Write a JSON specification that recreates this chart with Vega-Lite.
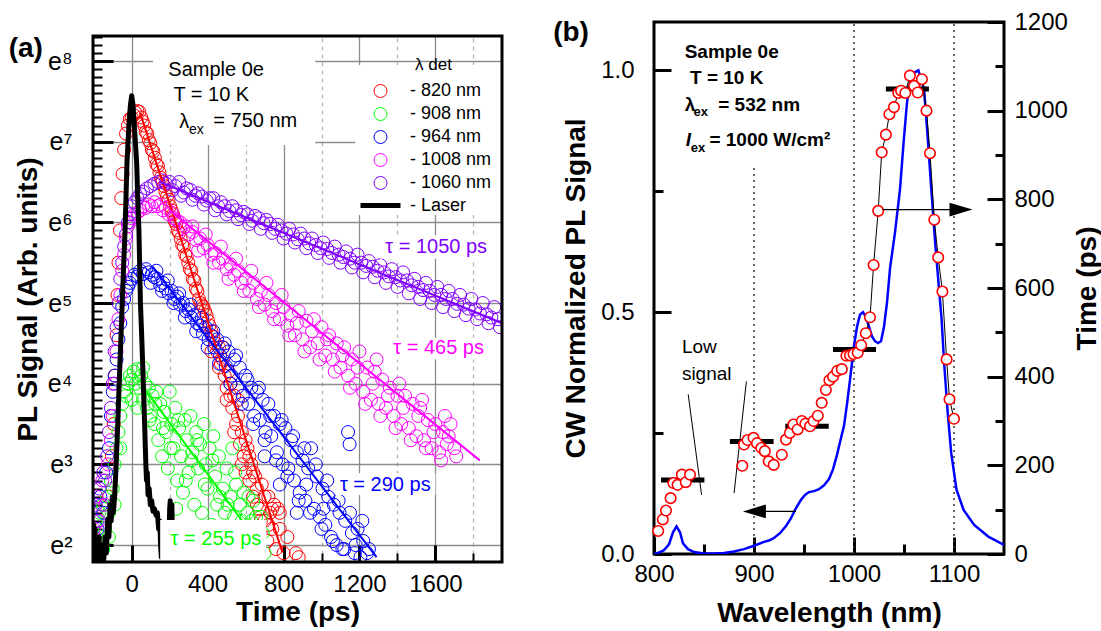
{
  "$schema": "https://vega.github.io/schema/vega-lite/v6.json",
  "padding": {"left": 8, "top": 8, "right": 5, "bottom": 5},
  "background": "white",
  "spacing": 47,
  "config": {
    "font": "Liberation Sans",
    "view": {"stroke": "black", "strokeWidth": 3},
    "axis": {"labelColor": "black", "titleColor": "black", "tickColor": "black", "domain": false, "labelFontSize": 24, "titleFontSize": 28, "titleFontWeight": "bold", "labelFlush": false, "labelOverlap": false, "labelBound": false}
  },
  "datasets": {
    "decay": [
      {"series":"820 nm","t":-120,"lnI":2.6},{"series":"820 nm","t":-105,"lnI":3.1},{"series":"820 nm","t":-95,"lnI":3.5},{"series":"820 nm","t":-88,"lnI":4.1},{"series":"820 nm","t":-80,"lnI":4.6},{"series":"820 nm","t":-75,"lnI":5.1},{"series":"820 nm","t":-70,"lnI":5.5},{"series":"820 nm","t":-62,"lnI":5.9},{"series":"820 nm","t":-55,"lnI":6.3},{"series":"820 nm","t":-48,"lnI":6.6},{"series":"820 nm","t":-40,"lnI":6.9},{"series":"820 nm","t":-30,"lnI":7.1},{"series":"820 nm","t":-20,"lnI":7.2},{"series":"820 nm","t":-10,"lnI":7.28},{"series":"820 nm","t":0,"lnI":7.3},{"series":"820 nm","t":10,"lnI":7.33},{"series":"820 nm","t":20,"lnI":7.36},{"series":"820 nm","t":30,"lnI":7.38},{"series":"820 nm","t":40,"lnI":7.37},{"series":"820 nm","t":50,"lnI":7.3},{"series":"820 nm","t":58,"lnI":7.25},{"series":"820 nm","t":66,"lnI":7.2},{"series":"820 nm","t":74,"lnI":7.12},{"series":"820 nm","t":82,"lnI":7.1},{"series":"820 nm","t":90,"lnI":7.02},{"series":"820 nm","t":98,"lnI":6.98},{"series":"820 nm","t":106,"lnI":6.9},{"series":"820 nm","t":114,"lnI":6.88},{"series":"820 nm","t":122,"lnI":6.8},{"series":"820 nm","t":130,"lnI":6.72},{"series":"820 nm","t":138,"lnI":6.7},{"series":"820 nm","t":146,"lnI":6.62},{"series":"820 nm","t":154,"lnI":6.55},{"series":"820 nm","t":162,"lnI":6.5},{"series":"820 nm","t":170,"lnI":6.45},{"series":"820 nm","t":178,"lnI":6.38},{"series":"820 nm","t":186,"lnI":6.32},{"series":"820 nm","t":194,"lnI":6.28},{"series":"820 nm","t":202,"lnI":6.2},{"series":"820 nm","t":210,"lnI":6.15},{"series":"820 nm","t":218,"lnI":6.1},{"series":"820 nm","t":226,"lnI":6.02},{"series":"820 nm","t":234,"lnI":5.98},{"series":"820 nm","t":242,"lnI":5.9},{"series":"820 nm","t":250,"lnI":5.87},{"series":"820 nm","t":258,"lnI":5.8},{"series":"820 nm","t":266,"lnI":5.72},{"series":"820 nm","t":274,"lnI":5.7},{"series":"820 nm","t":282,"lnI":5.6},{"series":"820 nm","t":290,"lnI":5.58},{"series":"820 nm","t":298,"lnI":5.5},{"series":"820 nm","t":306,"lnI":5.42},{"series":"820 nm","t":314,"lnI":5.4},{"series":"820 nm","t":322,"lnI":5.3},{"series":"820 nm","t":330,"lnI":5.28},{"series":"820 nm","t":338,"lnI":5.18},{"series":"820 nm","t":346,"lnI":5.15},{"series":"820 nm","t":354,"lnI":5.05},{"series":"820 nm","t":362,"lnI":5.0},{"series":"820 nm","t":370,"lnI":4.97},{"series":"820 nm","t":378,"lnI":4.95},{"series":"820 nm","t":386,"lnI":4.9},{"series":"820 nm","t":394,"lnI":4.85},{"series":"820 nm","t":402,"lnI":4.78},{"series":"820 nm","t":410,"lnI":4.72},{"series":"820 nm","t":420,"lnI":4.65},{"series":"820 nm","t":430,"lnI":4.58},{"series":"820 nm","t":440,"lnI":4.5},{"series":"820 nm","t":450,"lnI":4.4},{"series":"820 nm","t":460,"lnI":4.45},{"series":"820 nm","t":470,"lnI":4.25},{"series":"820 nm","t":480,"lnI":4.3},{"series":"820 nm","t":490,"lnI":4.1},{"series":"820 nm","t":500,"lnI":3.95},{"series":"820 nm","t":510,"lnI":4.15},{"series":"820 nm","t":520,"lnI":3.85},{"series":"820 nm","t":530,"lnI":3.7},{"series":"820 nm","t":540,"lnI":3.85},{"series":"820 nm","t":550,"lnI":3.5},{"series":"820 nm","t":560,"lnI":3.6},{"series":"820 nm","t":570,"lnI":3.25},{"series":"820 nm","t":580,"lnI":3.4},{"series":"820 nm","t":590,"lnI":3.1},{"series":"820 nm","t":600,"lnI":2.9},{"series":"820 nm","t":610,"lnI":3.2},{"series":"820 nm","t":620,"lnI":2.8},{"series":"820 nm","t":630,"lnI":3.0},{"series":"820 nm","t":640,"lnI":2.6},{"series":"820 nm","t":650,"lnI":2.85},{"series":"820 nm","t":660,"lnI":2.7},{"series":"820 nm","t":672,"lnI":2.45},{"series":"820 nm","t":685,"lnI":2.75},{"series":"820 nm","t":700,"lnI":2.3},{"series":"820 nm","t":715,"lnI":2.05},{"series":"820 nm","t":720,"lnI":2.6},{"series":"820 nm","t":730,"lnI":2.4},{"series":"820 nm","t":740,"lnI":2.2},{"series":"820 nm","t":750,"lnI":2.5},{"series":"820 nm","t":760,"lnI":1.95},{"series":"820 nm","t":770,"lnI":2.45},{"series":"820 nm","t":780,"lnI":2.2},{"series":"820 nm","t":800,"lnI":1.9},{"series":"820 nm","t":865,"lnI":1.9},{"series":"820 nm","t":880,"lnI":1.85},
      {"series":"820 nm","t":420,"lnI":4.4},{"series":"820 nm","t":460,"lnI":4.2},{"series":"820 nm","t":500,"lnI":3.8},{"series":"820 nm","t":540,"lnI":3.4},{"series":"820 nm","t":580,"lnI":3.0},{"series":"820 nm","t":620,"lnI":3.1},{"series":"820 nm","t":660,"lnI":2.5},{"series":"820 nm","t":700,"lnI":2.6},{"series":"820 nm","t":740,"lnI":2.45},{"series":"820 nm","t":780,"lnI":2.4},{"series":"820 nm","t":820,"lnI":2.1},{"series":"820 nm","t":600,"lnI":3.3},{"series":"820 nm","t":560,"lnI":3.8},{"series":"820 nm","t":520,"lnI":4.0},{"series":"820 nm","t":480,"lnI":4.45},{"series":"820 nm","t":640,"lnI":2.9},{"series":"820 nm","t":680,"lnI":2.3},{"series":"820 nm","t":720,"lnI":2.25},
      {"series":"908 nm","t":-200,"lnI":1.9},{"series":"908 nm","t":-190,"lnI":2.3},{"series":"908 nm","t":-180,"lnI":2.0},{"series":"908 nm","t":-170,"lnI":2.4},{"series":"908 nm","t":-160,"lnI":2.1},{"series":"908 nm","t":-150,"lnI":2.5},{"series":"908 nm","t":-140,"lnI":2.2},{"series":"908 nm","t":-130,"lnI":2.6},{"series":"908 nm","t":-120,"lnI":2.4},{"series":"908 nm","t":-110,"lnI":2.8},{"series":"908 nm","t":-100,"lnI":2.7},{"series":"908 nm","t":-90,"lnI":3.0},{"series":"908 nm","t":-80,"lnI":3.2},{"series":"908 nm","t":-70,"lnI":3.4},{"series":"908 nm","t":-60,"lnI":3.6},{"series":"908 nm","t":-50,"lnI":3.75},{"series":"908 nm","t":-40,"lnI":3.9},{"series":"908 nm","t":-30,"lnI":3.85},{"series":"908 nm","t":-20,"lnI":4.0},{"series":"908 nm","t":-10,"lnI":4.1},{"series":"908 nm","t":0,"lnI":4.05},{"series":"908 nm","t":10,"lnI":4.15},{"series":"908 nm","t":20,"lnI":4.0},{"series":"908 nm","t":30,"lnI":4.18},{"series":"908 nm","t":40,"lnI":3.95},{"series":"908 nm","t":50,"lnI":4.1},{"series":"908 nm","t":60,"lnI":3.8},{"series":"908 nm","t":70,"lnI":4.0},{"series":"908 nm","t":80,"lnI":3.7},{"series":"908 nm","t":90,"lnI":3.95},{"series":"908 nm","t":100,"lnI":3.6},{"series":"908 nm","t":110,"lnI":3.85},{"series":"908 nm","t":120,"lnI":3.5},{"series":"908 nm","t":130,"lnI":3.9},{"series":"908 nm","t":140,"lnI":3.3},{"series":"908 nm","t":150,"lnI":3.75},{"series":"908 nm","t":160,"lnI":3.1},{"series":"908 nm","t":170,"lnI":3.65},{"series":"908 nm","t":180,"lnI":3.4},{"series":"908 nm","t":190,"lnI":2.95},{"series":"908 nm","t":200,"lnI":3.9},{"series":"908 nm","t":210,"lnI":3.5},{"series":"908 nm","t":220,"lnI":3.2},{"series":"908 nm","t":230,"lnI":3.7},{"series":"908 nm","t":240,"lnI":2.8},{"series":"908 nm","t":250,"lnI":3.45},{"series":"908 nm","t":260,"lnI":3.1},{"series":"908 nm","t":270,"lnI":2.65},{"series":"908 nm","t":280,"lnI":3.55},{"series":"908 nm","t":290,"lnI":3.3},{"series":"908 nm","t":300,"lnI":2.9},{"series":"908 nm","t":310,"lnI":3.6},{"series":"908 nm","t":320,"lnI":3.15},{"series":"908 nm","t":330,"lnI":2.5},{"series":"908 nm","t":340,"lnI":3.4},{"series":"908 nm","t":350,"lnI":2.95},{"series":"908 nm","t":360,"lnI":3.25},{"series":"908 nm","t":370,"lnI":2.4},{"series":"908 nm","t":380,"lnI":3.5},{"series":"908 nm","t":390,"lnI":3.0},{"series":"908 nm","t":400,"lnI":2.7},{"series":"908 nm","t":410,"lnI":3.2},{"series":"908 nm","t":420,"lnI":2.25},{"series":"908 nm","t":430,"lnI":3.35},{"series":"908 nm","t":440,"lnI":2.85},{"series":"908 nm","t":450,"lnI":2.5},{"series":"908 nm","t":460,"lnI":3.1},{"series":"908 nm","t":470,"lnI":1.9},{"series":"908 nm","t":480,"lnI":2.7},{"series":"908 nm","t":490,"lnI":2.4},{"series":"908 nm","t":500,"lnI":2.95},{"series":"908 nm","t":510,"lnI":2.15},{"series":"908 nm","t":520,"lnI":2.6},{"series":"908 nm","t":530,"lnI":3.2},{"series":"908 nm","t":540,"lnI":2.35},{"series":"908 nm","t":550,"lnI":2.75},{"series":"908 nm","t":560,"lnI":1.95},{"series":"908 nm","t":570,"lnI":2.5},{"series":"908 nm","t":580,"lnI":2.3},{"series":"908 nm","t":590,"lnI":2.65},{"series":"908 nm","t":600,"lnI":2.05},{"series":"908 nm","t":610,"lnI":2.4},{"series":"908 nm","t":620,"lnI":1.85},{"series":"908 nm","t":630,"lnI":2.3},{"series":"908 nm","t":640,"lnI":2.55},{"series":"908 nm","t":660,"lnI":2.1},{"series":"908 nm","t":680,"lnI":2.35},{"series":"908 nm","t":700,"lnI":1.9},
      {"series":"908 nm","t":60,"lnI":4.2},{"series":"908 nm","t":95,"lnI":3.55},{"series":"908 nm","t":125,"lnI":3.75},{"series":"908 nm","t":165,"lnI":3.45},{"series":"908 nm","t":205,"lnI":3.2},{"series":"908 nm","t":245,"lnI":3.55},{"series":"908 nm","t":285,"lnI":2.8},{"series":"908 nm","t":315,"lnI":3.05},{"series":"908 nm","t":345,"lnI":3.3},{"series":"908 nm","t":385,"lnI":2.75},{"series":"908 nm","t":425,"lnI":3.05},{"series":"908 nm","t":465,"lnI":2.6},{"series":"908 nm","t":505,"lnI":2.5},{"series":"908 nm","t":545,"lnI":2.9},{"series":"908 nm","t":585,"lnI":2.1},{"series":"908 nm","t":615,"lnI":2.6},{"series":"908 nm","t":655,"lnI":2.35},{"series":"908 nm","t":690,"lnI":2.15},{"series":"908 nm","t":-150,"lnI":1.95},{"series":"908 nm","t":-120,"lnI":2.1},{"series":"908 nm","t":-90,"lnI":2.5},{"series":"908 nm","t":-60,"lnI":3.2},{"series":"908 nm","t":0,"lnI":3.8},{"series":"908 nm","t":30,"lnI":3.7},{"series":"908 nm","t":235,"lnI":2.45},{"series":"908 nm","t":355,"lnI":2.2},{"series":"908 nm","t":475,"lnI":2.2},
      {"series":"964 nm","t":-180,"lnI":2.2},{"series":"964 nm","t":-165,"lnI":2.6},{"series":"964 nm","t":-150,"lnI":2.4},{"series":"964 nm","t":-135,"lnI":2.9},{"series":"964 nm","t":-120,"lnI":3.2},{"series":"964 nm","t":-110,"lnI":3.6},{"series":"964 nm","t":-100,"lnI":3.9},{"series":"964 nm","t":-90,"lnI":4.1},{"series":"964 nm","t":-80,"lnI":4.3},{"series":"964 nm","t":-70,"lnI":4.55},{"series":"964 nm","t":-60,"lnI":4.75},{"series":"964 nm","t":-50,"lnI":4.95},{"series":"964 nm","t":-40,"lnI":5.05},{"series":"964 nm","t":-30,"lnI":5.15},{"series":"964 nm","t":-20,"lnI":5.2},{"series":"964 nm","t":-10,"lnI":5.25},{"series":"964 nm","t":0,"lnI":5.3},{"series":"964 nm","t":15,"lnI":5.35},{"series":"964 nm","t":30,"lnI":5.33},{"series":"964 nm","t":45,"lnI":5.4},{"series":"964 nm","t":60,"lnI":5.36},{"series":"964 nm","t":75,"lnI":5.42},{"series":"964 nm","t":90,"lnI":5.38},{"series":"964 nm","t":105,"lnI":5.35},{"series":"964 nm","t":120,"lnI":5.32},{"series":"964 nm","t":135,"lnI":5.3},{"series":"964 nm","t":150,"lnI":5.22},{"series":"964 nm","t":165,"lnI":5.25},{"series":"964 nm","t":180,"lnI":5.18},{"series":"964 nm","t":195,"lnI":5.12},{"series":"964 nm","t":210,"lnI":5.15},{"series":"964 nm","t":225,"lnI":5.05},{"series":"964 nm","t":240,"lnI":5.08},{"series":"964 nm","t":255,"lnI":4.98},{"series":"964 nm","t":270,"lnI":5.0},{"series":"964 nm","t":285,"lnI":4.9},{"series":"964 nm","t":300,"lnI":4.92},{"series":"964 nm","t":315,"lnI":4.82},{"series":"964 nm","t":330,"lnI":4.85},{"series":"964 nm","t":345,"lnI":4.75},{"series":"964 nm","t":360,"lnI":4.72},{"series":"964 nm","t":375,"lnI":4.62},{"series":"964 nm","t":390,"lnI":4.7},{"series":"964 nm","t":405,"lnI":4.55},{"series":"964 nm","t":420,"lnI":4.6},{"series":"964 nm","t":435,"lnI":4.45},{"series":"964 nm","t":450,"lnI":4.55},{"series":"964 nm","t":465,"lnI":4.35},{"series":"964 nm","t":480,"lnI":4.45},{"series":"964 nm","t":495,"lnI":4.22},{"series":"964 nm","t":510,"lnI":4.4},{"series":"964 nm","t":525,"lnI":4.1},{"series":"964 nm","t":540,"lnI":4.3},{"series":"964 nm","t":555,"lnI":3.95},{"series":"964 nm","t":570,"lnI":4.2},{"series":"964 nm","t":585,"lnI":3.85},{"series":"964 nm","t":600,"lnI":4.1},{"series":"964 nm","t":615,"lnI":3.75},{"series":"964 nm","t":630,"lnI":3.95},{"series":"964 nm","t":645,"lnI":3.6},{"series":"964 nm","t":660,"lnI":3.9},{"series":"964 nm","t":675,"lnI":3.55},{"series":"964 nm","t":690,"lnI":3.8},{"series":"964 nm","t":705,"lnI":3.4},{"series":"964 nm","t":720,"lnI":3.75},{"series":"964 nm","t":735,"lnI":3.35},{"series":"964 nm","t":750,"lnI":3.6},{"series":"964 nm","t":765,"lnI":3.15},{"series":"964 nm","t":780,"lnI":3.5},{"series":"964 nm","t":795,"lnI":3.0},{"series":"964 nm","t":810,"lnI":3.45},{"series":"964 nm","t":825,"lnI":2.95},{"series":"964 nm","t":840,"lnI":3.3},{"series":"964 nm","t":855,"lnI":2.8},{"series":"964 nm","t":870,"lnI":3.15},{"series":"964 nm","t":885,"lnI":2.65},{"series":"964 nm","t":900,"lnI":3.05},{"series":"964 nm","t":915,"lnI":2.55},{"series":"964 nm","t":930,"lnI":2.95},{"series":"964 nm","t":945,"lnI":3.2},{"series":"964 nm","t":960,"lnI":2.45},{"series":"964 nm","t":975,"lnI":2.85},{"series":"964 nm","t":990,"lnI":2.35},{"series":"964 nm","t":1005,"lnI":2.7},{"series":"964 nm","t":1020,"lnI":2.25},{"series":"964 nm","t":1035,"lnI":2.6},{"series":"964 nm","t":1050,"lnI":2.1},{"series":"964 nm","t":1065,"lnI":2.5},{"series":"964 nm","t":1080,"lnI":2.0},{"series":"964 nm","t":1095,"lnI":2.4},{"series":"964 nm","t":1110,"lnI":1.95},{"series":"964 nm","t":1125,"lnI":2.3},{"series":"964 nm","t":1140,"lnI":3.4},{"series":"964 nm","t":1148,"lnI":3.25},{"series":"964 nm","t":1160,"lnI":2.15},{"series":"964 nm","t":1175,"lnI":1.9},{"series":"964 nm","t":1190,"lnI":2.2},{"series":"964 nm","t":1205,"lnI":1.85},{"series":"964 nm","t":1220,"lnI":2.05},{"series":"964 nm","t":1240,"lnI":1.9},
      {"series":"964 nm","t":100,"lnI":5.25},{"series":"964 nm","t":130,"lnI":5.4},{"series":"964 nm","t":160,"lnI":5.15},{"series":"964 nm","t":190,"lnI":5.28},{"series":"964 nm","t":220,"lnI":5.0},{"series":"964 nm","t":250,"lnI":5.12},{"series":"964 nm","t":280,"lnI":4.82},{"series":"964 nm","t":310,"lnI":4.98},{"series":"964 nm","t":340,"lnI":4.65},{"series":"964 nm","t":370,"lnI":4.82},{"series":"964 nm","t":400,"lnI":4.45},{"series":"964 nm","t":430,"lnI":4.65},{"series":"964 nm","t":460,"lnI":4.25},{"series":"964 nm","t":490,"lnI":4.5},{"series":"964 nm","t":520,"lnI":4.0},{"series":"964 nm","t":550,"lnI":4.35},{"series":"964 nm","t":580,"lnI":3.75},{"series":"964 nm","t":610,"lnI":4.05},{"series":"964 nm","t":640,"lnI":3.5},{"series":"964 nm","t":670,"lnI":3.95},{"series":"964 nm","t":700,"lnI":3.3},{"series":"964 nm","t":730,"lnI":3.6},{"series":"964 nm","t":760,"lnI":3.05},{"series":"964 nm","t":790,"lnI":3.55},{"series":"964 nm","t":820,"lnI":2.85},{"series":"964 nm","t":850,"lnI":3.35},{"series":"964 nm","t":880,"lnI":2.55},{"series":"964 nm","t":910,"lnI":3.2},{"series":"964 nm","t":940,"lnI":2.4},{"series":"964 nm","t":970,"lnI":3.0},{"series":"964 nm","t":1000,"lnI":2.2},{"series":"964 nm","t":1030,"lnI":2.8},{"series":"964 nm","t":1060,"lnI":2.05},{"series":"964 nm","t":1090,"lnI":2.55},{"series":"964 nm","t":1120,"lnI":1.95},{"series":"964 nm","t":1150,"lnI":2.4},{"series":"964 nm","t":1180,"lnI":2.0},{"series":"964 nm","t":1215,"lnI":2.3},{"series":"964 nm","t":1250,"lnI":1.95},{"series":"964 nm","t":870,"lnI":2.4},{"series":"964 nm","t":920,"lnI":2.75},{"series":"964 nm","t":1010,"lnI":2.45},{"series":"964 nm","t":780,"lnI":2.75},{"series":"964 nm","t":700,"lnI":3.1},
      {"series":"1008 nm","t":-200,"lnI":2.2},{"series":"1008 nm","t":-185,"lnI":2.6},{"series":"1008 nm","t":-170,"lnI":2.3},{"series":"1008 nm","t":-155,"lnI":2.8},{"series":"1008 nm","t":-140,"lnI":2.5},{"series":"1008 nm","t":-125,"lnI":3.0},{"series":"1008 nm","t":-110,"lnI":3.3},{"series":"1008 nm","t":-100,"lnI":3.6},{"series":"1008 nm","t":-90,"lnI":4.0},{"series":"1008 nm","t":-80,"lnI":4.4},{"series":"1008 nm","t":-70,"lnI":4.8},{"series":"1008 nm","t":-60,"lnI":5.1},{"series":"1008 nm","t":-50,"lnI":5.4},{"series":"1008 nm","t":-40,"lnI":5.6},{"series":"1008 nm","t":-30,"lnI":5.8},{"series":"1008 nm","t":-20,"lnI":5.95},{"series":"1008 nm","t":-10,"lnI":6.0},{"series":"1008 nm","t":0,"lnI":6.05},{"series":"1008 nm","t":15,"lnI":6.1},{"series":"1008 nm","t":30,"lnI":6.12},{"series":"1008 nm","t":45,"lnI":6.15},{"series":"1008 nm","t":60,"lnI":6.2},{"series":"1008 nm","t":75,"lnI":6.18},{"series":"1008 nm","t":90,"lnI":6.22},{"series":"1008 nm","t":105,"lnI":6.2},{"series":"1008 nm","t":120,"lnI":6.25},{"series":"1008 nm","t":135,"lnI":6.2},{"series":"1008 nm","t":150,"lnI":6.22},{"series":"1008 nm","t":165,"lnI":6.15},{"series":"1008 nm","t":180,"lnI":6.18},{"series":"1008 nm","t":195,"lnI":6.1},{"series":"1008 nm","t":210,"lnI":6.12},{"series":"1008 nm","t":225,"lnI":6.05},{"series":"1008 nm","t":240,"lnI":6.02},{"series":"1008 nm","t":255,"lnI":6.0},{"series":"1008 nm","t":270,"lnI":5.92},{"series":"1008 nm","t":285,"lnI":5.95},{"series":"1008 nm","t":300,"lnI":5.85},{"series":"1008 nm","t":320,"lnI":5.88},{"series":"1008 nm","t":340,"lnI":5.78},{"series":"1008 nm","t":360,"lnI":5.8},{"series":"1008 nm","t":380,"lnI":5.68},{"series":"1008 nm","t":400,"lnI":5.72},{"series":"1008 nm","t":420,"lnI":5.6},{"series":"1008 nm","t":440,"lnI":5.62},{"series":"1008 nm","t":460,"lnI":5.5},{"series":"1008 nm","t":480,"lnI":5.55},{"series":"1008 nm","t":500,"lnI":5.42},{"series":"1008 nm","t":520,"lnI":5.48},{"series":"1008 nm","t":540,"lnI":5.35},{"series":"1008 nm","t":560,"lnI":5.4},{"series":"1008 nm","t":580,"lnI":5.25},{"series":"1008 nm","t":600,"lnI":5.3},{"series":"1008 nm","t":620,"lnI":5.15},{"series":"1008 nm","t":640,"lnI":5.25},{"series":"1008 nm","t":660,"lnI":5.05},{"series":"1008 nm","t":680,"lnI":5.15},{"series":"1008 nm","t":700,"lnI":4.98},{"series":"1008 nm","t":720,"lnI":5.1},{"series":"1008 nm","t":740,"lnI":4.9},{"series":"1008 nm","t":760,"lnI":5.0},{"series":"1008 nm","t":780,"lnI":4.8},{"series":"1008 nm","t":800,"lnI":4.95},{"series":"1008 nm","t":820,"lnI":4.72},{"series":"1008 nm","t":840,"lnI":4.85},{"series":"1008 nm","t":860,"lnI":4.6},{"series":"1008 nm","t":880,"lnI":4.9},{"series":"1008 nm","t":900,"lnI":4.55},{"series":"1008 nm","t":920,"lnI":4.78},{"series":"1008 nm","t":940,"lnI":4.45},{"series":"1008 nm","t":960,"lnI":4.8},{"series":"1008 nm","t":980,"lnI":4.5},{"series":"1008 nm","t":1000,"lnI":4.7},{"series":"1008 nm","t":1020,"lnI":4.35},{"series":"1008 nm","t":1040,"lnI":4.6},{"series":"1008 nm","t":1060,"lnI":4.3},{"series":"1008 nm","t":1080,"lnI":4.5},{"series":"1008 nm","t":1100,"lnI":4.2},{"series":"1008 nm","t":1120,"lnI":4.45},{"series":"1008 nm","t":1140,"lnI":4.1},{"series":"1008 nm","t":1160,"lnI":4.3},{"series":"1008 nm","t":1180,"lnI":4.0},{"series":"1008 nm","t":1200,"lnI":4.4},{"series":"1008 nm","t":1220,"lnI":3.9},{"series":"1008 nm","t":1240,"lnI":4.2},{"series":"1008 nm","t":1260,"lnI":3.8},{"series":"1008 nm","t":1280,"lnI":4.15},{"series":"1008 nm","t":1300,"lnI":3.75},{"series":"1008 nm","t":1320,"lnI":4.05},{"series":"1008 nm","t":1340,"lnI":3.7},{"series":"1008 nm","t":1360,"lnI":3.95},{"series":"1008 nm","t":1380,"lnI":3.6},{"series":"1008 nm","t":1400,"lnI":3.85},{"series":"1008 nm","t":1420,"lnI":3.5},{"series":"1008 nm","t":1440,"lnI":3.85},{"series":"1008 nm","t":1460,"lnI":3.45},{"series":"1008 nm","t":1480,"lnI":3.75},{"series":"1008 nm","t":1500,"lnI":3.35},{"series":"1008 nm","t":1520,"lnI":3.7},{"series":"1008 nm","t":1540,"lnI":3.3},{"series":"1008 nm","t":1560,"lnI":3.55},{"series":"1008 nm","t":1580,"lnI":3.2},{"series":"1008 nm","t":1600,"lnI":3.5},{"series":"1008 nm","t":1620,"lnI":3.15},{"series":"1008 nm","t":1640,"lnI":3.4},{"series":"1008 nm","t":1660,"lnI":3.25},{"series":"1008 nm","t":1680,"lnI":3.5},{"series":"1008 nm","t":1700,"lnI":3.2},
      {"series":"1008 nm","t":320,"lnI":5.95},{"series":"1008 nm","t":350,"lnI":5.65},{"series":"1008 nm","t":390,"lnI":5.85},{"series":"1008 nm","t":430,"lnI":5.5},{"series":"1008 nm","t":470,"lnI":5.7},{"series":"1008 nm","t":510,"lnI":5.3},{"series":"1008 nm","t":550,"lnI":5.55},{"series":"1008 nm","t":590,"lnI":5.15},{"series":"1008 nm","t":630,"lnI":5.4},{"series":"1008 nm","t":670,"lnI":4.95},{"series":"1008 nm","t":710,"lnI":5.25},{"series":"1008 nm","t":750,"lnI":4.8},{"series":"1008 nm","t":790,"lnI":5.1},{"series":"1008 nm","t":830,"lnI":4.6},{"series":"1008 nm","t":870,"lnI":4.75},{"series":"1008 nm","t":910,"lnI":4.4},{"series":"1008 nm","t":950,"lnI":4.65},{"series":"1008 nm","t":990,"lnI":4.3},{"series":"1008 nm","t":1030,"lnI":4.55},{"series":"1008 nm","t":1070,"lnI":4.15},{"series":"1008 nm","t":1110,"lnI":4.35},{"series":"1008 nm","t":1150,"lnI":3.95},{"series":"1008 nm","t":1190,"lnI":4.2},{"series":"1008 nm","t":1230,"lnI":3.75},{"series":"1008 nm","t":1270,"lnI":4.0},{"series":"1008 nm","t":1310,"lnI":3.6},{"series":"1008 nm","t":1350,"lnI":3.85},{"series":"1008 nm","t":1390,"lnI":3.45},{"series":"1008 nm","t":1430,"lnI":3.7},{"series":"1008 nm","t":1470,"lnI":3.3},{"series":"1008 nm","t":1510,"lnI":3.6},{"series":"1008 nm","t":1550,"lnI":3.2},{"series":"1008 nm","t":1590,"lnI":3.4},{"series":"1008 nm","t":1630,"lnI":3.05},{"series":"1008 nm","t":1670,"lnI":3.35},{"series":"1008 nm","t":1710,"lnI":3.1},{"series":"1008 nm","t":1290,"lnI":4.3},{"series":"1008 nm","t":1410,"lnI":4.0},{"series":"1008 nm","t":1530,"lnI":3.8},{"series":"1008 nm","t":1650,"lnI":3.6},
      {"series":"1060 nm","t":-200,"lnI":2.1},{"series":"1060 nm","t":-190,"lnI":2.5},{"series":"1060 nm","t":-180,"lnI":2.3},{"series":"1060 nm","t":-170,"lnI":2.7},{"series":"1060 nm","t":-160,"lnI":2.5},{"series":"1060 nm","t":-150,"lnI":2.9},{"series":"1060 nm","t":-140,"lnI":2.8},{"series":"1060 nm","t":-130,"lnI":3.1},{"series":"1060 nm","t":-120,"lnI":3.4},{"series":"1060 nm","t":-110,"lnI":3.7},{"series":"1060 nm","t":-100,"lnI":4.0},{"series":"1060 nm","t":-90,"lnI":4.4},{"series":"1060 nm","t":-80,"lnI":4.7},{"series":"1060 nm","t":-70,"lnI":5.0},{"series":"1060 nm","t":-60,"lnI":5.3},{"series":"1060 nm","t":-50,"lnI":5.5},{"series":"1060 nm","t":-40,"lnI":5.7},{"series":"1060 nm","t":-30,"lnI":5.85},{"series":"1060 nm","t":-20,"lnI":6.0},{"series":"1060 nm","t":-10,"lnI":6.1},{"series":"1060 nm","t":0,"lnI":6.2},{"series":"1060 nm","t":15,"lnI":6.25},{"series":"1060 nm","t":30,"lnI":6.3},{"series":"1060 nm","t":45,"lnI":6.35},{"series":"1060 nm","t":60,"lnI":6.38},{"series":"1060 nm","t":80,"lnI":6.42},{"series":"1060 nm","t":100,"lnI":6.45},{"series":"1060 nm","t":120,"lnI":6.48},{"series":"1060 nm","t":140,"lnI":6.5},{"series":"1060 nm","t":160,"lnI":6.52},{"series":"1060 nm","t":180,"lnI":6.48},{"series":"1060 nm","t":200,"lnI":6.5},{"series":"1060 nm","t":215,"lnI":6.4},{"series":"1060 nm","t":230,"lnI":6.45},{"series":"1060 nm","t":260,"lnI":6.33},{"series":"1060 nm","t":275,"lnI":6.37},{"series":"1060 nm","t":290,"lnI":6.42},{"series":"1060 nm","t":320,"lnI":6.28},{"series":"1060 nm","t":335,"lnI":6.33},{"series":"1060 nm","t":350,"lnI":6.36},{"series":"1060 nm","t":380,"lnI":6.22},{"series":"1060 nm","t":395,"lnI":6.27},{"series":"1060 nm","t":410,"lnI":6.3},{"series":"1060 nm","t":440,"lnI":6.15},{"series":"1060 nm","t":455,"lnI":6.2},{"series":"1060 nm","t":470,"lnI":6.25},{"series":"1060 nm","t":500,"lnI":6.1},{"series":"1060 nm","t":515,"lnI":6.14},{"series":"1060 nm","t":530,"lnI":6.2},{"series":"1060 nm","t":560,"lnI":6.04},{"series":"1060 nm","t":575,"lnI":6.09},{"series":"1060 nm","t":590,"lnI":6.13},{"series":"1060 nm","t":620,"lnI":5.98},{"series":"1060 nm","t":635,"lnI":6.02},{"series":"1060 nm","t":650,"lnI":6.08},{"series":"1060 nm","t":680,"lnI":5.92},{"series":"1060 nm","t":695,"lnI":5.99},{"series":"1060 nm","t":710,"lnI":6.03},{"series":"1060 nm","t":740,"lnI":5.87},{"series":"1060 nm","t":755,"lnI":5.92},{"series":"1060 nm","t":770,"lnI":5.97},{"series":"1060 nm","t":800,"lnI":5.8},{"series":"1060 nm","t":815,"lnI":5.86},{"series":"1060 nm","t":830,"lnI":5.92},{"series":"1060 nm","t":860,"lnI":5.75},{"series":"1060 nm","t":875,"lnI":5.79},{"series":"1060 nm","t":890,"lnI":5.86},{"series":"1060 nm","t":920,"lnI":5.68},{"series":"1060 nm","t":935,"lnI":5.74},{"series":"1060 nm","t":950,"lnI":5.8},{"series":"1060 nm","t":980,"lnI":5.62},{"series":"1060 nm","t":995,"lnI":5.68},{"series":"1060 nm","t":1010,"lnI":5.75},{"series":"1060 nm","t":1040,"lnI":5.56},{"series":"1060 nm","t":1055,"lnI":5.62},{"series":"1060 nm","t":1070,"lnI":5.7},{"series":"1060 nm","t":1100,"lnI":5.5},{"series":"1060 nm","t":1115,"lnI":5.57},{"series":"1060 nm","t":1130,"lnI":5.64},{"series":"1060 nm","t":1160,"lnI":5.44},{"series":"1060 nm","t":1175,"lnI":5.5},{"series":"1060 nm","t":1190,"lnI":5.6},{"series":"1060 nm","t":1220,"lnI":5.38},{"series":"1060 nm","t":1235,"lnI":5.46},{"series":"1060 nm","t":1250,"lnI":5.52},{"series":"1060 nm","t":1280,"lnI":5.32},{"series":"1060 nm","t":1295,"lnI":5.4},{"series":"1060 nm","t":1310,"lnI":5.47},{"series":"1060 nm","t":1340,"lnI":5.25},{"series":"1060 nm","t":1355,"lnI":5.33},{"series":"1060 nm","t":1370,"lnI":5.42},{"series":"1060 nm","t":1400,"lnI":5.2},{"series":"1060 nm","t":1415,"lnI":5.28},{"series":"1060 nm","t":1430,"lnI":5.38},{"series":"1060 nm","t":1460,"lnI":5.12},{"series":"1060 nm","t":1475,"lnI":5.22},{"series":"1060 nm","t":1490,"lnI":5.3},{"series":"1060 nm","t":1520,"lnI":5.05},{"series":"1060 nm","t":1535,"lnI":5.16},{"series":"1060 nm","t":1550,"lnI":5.25},{"series":"1060 nm","t":1580,"lnI":5.0},{"series":"1060 nm","t":1595,"lnI":5.1},{"series":"1060 nm","t":1610,"lnI":5.2},{"series":"1060 nm","t":1640,"lnI":4.95},{"series":"1060 nm","t":1655,"lnI":5.05},{"series":"1060 nm","t":1670,"lnI":5.15},{"series":"1060 nm","t":1700,"lnI":4.9},{"series":"1060 nm","t":1715,"lnI":4.99},{"series":"1060 nm","t":1730,"lnI":5.1},{"series":"1060 nm","t":1760,"lnI":4.85},{"series":"1060 nm","t":1775,"lnI":4.93},{"series":"1060 nm","t":1790,"lnI":5.05},{"series":"1060 nm","t":1820,"lnI":4.8},{"series":"1060 nm","t":1835,"lnI":4.87},{"series":"1060 nm","t":1850,"lnI":5.0},{"series":"1060 nm","t":1880,"lnI":4.75},{"series":"1060 nm","t":1895,"lnI":4.82},{"series":"1060 nm","t":1910,"lnI":4.95},{"series":"1060 nm","t":1940,"lnI":4.7},
      {"series":"1060 nm","t":250,"lnI":6.5},{"series":"1060 nm","t":310,"lnI":6.4},{"series":"1060 nm","t":370,"lnI":6.32},{"series":"1060 nm","t":430,"lnI":6.3},{"series":"1060 nm","t":490,"lnI":6.2},{"series":"1060 nm","t":550,"lnI":6.15},{"series":"1060 nm","t":610,"lnI":6.1},{"series":"1060 nm","t":670,"lnI":6.05},{"series":"1060 nm","t":730,"lnI":5.98},{"series":"1060 nm","t":790,"lnI":5.9},{"series":"1060 nm","t":850,"lnI":5.85},{"series":"1060 nm","t":910,"lnI":5.8},{"series":"1060 nm","t":970,"lnI":5.72},{"series":"1060 nm","t":1030,"lnI":5.67},{"series":"1060 nm","t":1090,"lnI":5.6},{"series":"1060 nm","t":1150,"lnI":5.55},{"series":"1060 nm","t":1210,"lnI":5.5},{"series":"1060 nm","t":1270,"lnI":5.45},{"series":"1060 nm","t":1330,"lnI":5.38},{"series":"1060 nm","t":1390,"lnI":5.32},{"series":"1060 nm","t":1450,"lnI":5.28},{"series":"1060 nm","t":1510,"lnI":5.2},{"series":"1060 nm","t":1570,"lnI":5.15},{"series":"1060 nm","t":1630,"lnI":5.1},{"series":"1060 nm","t":1690,"lnI":5.05},{"series":"1060 nm","t":1750,"lnI":4.98},{"series":"1060 nm","t":1810,"lnI":4.92},{"series":"1060 nm","t":1870,"lnI":4.86},{"series":"1060 nm","t":1930,"lnI":4.8}
    ],
    "fits": [
      {"series":"820 nm","t":44,"lnI":7.36},{"series":"820 nm","t":794,"lnI":1.91},
      {"series":"908 nm","t":70,"lnI":3.93},{"series":"908 nm","t":582,"lnI":2.3},
      {"series":"964 nm","t":110,"lnI":5.45},{"series":"964 nm","t":1290,"lnI":1.85},
      {"series":"1008 nm","t":200,"lnI":6.15},{"series":"1008 nm","t":1834,"lnI":3.05},
      {"series":"1060 nm","t":150,"lnI":6.5},{"series":"1060 nm","t":1951,"lnI":4.75}
    ],
    "laser": [
      {"t":-204,"lnI":1.85},{"t":-200,"lnI":2.25},{"t":-197,"lnI":1.8},{"t":-194,"lnI":2.2},{"t":-190,"lnI":1.8},{"t":-186,"lnI":2.05},{"t":-182,"lnI":1.8},{"t":-178,"lnI":1.95},{"t":-172,"lnI":2.1},{"t":-168,"lnI":1.8},{"t":-160,"lnI":1.85},{"t":-154,"lnI":2.0},{"t":-148,"lnI":1.8},{"t":-140,"lnI":2.1},{"t":-134,"lnI":1.9},{"t":-126,"lnI":2.32},{"t":-120,"lnI":2.1},{"t":-114,"lnI":2.5},{"t":-108,"lnI":2.3},{"t":-102,"lnI":2.6},{"t":-97,"lnI":2.4},{"t":-90,"lnI":2.6},{"t":-82,"lnI":3.0},{"t":-72,"lnI":3.6},{"t":-66,"lnI":4.0},{"t":-58,"lnI":4.5},{"t":-50,"lnI":5.0},{"t":-42,"lnI":5.5},{"t":-35,"lnI":5.9},{"t":-25,"lnI":6.74},{"t":-15,"lnI":7.2},{"t":-7,"lnI":7.45},{"t":0,"lnI":7.57},{"t":7,"lnI":7.45},{"t":15,"lnI":7.15},{"t":26,"lnI":6.74},{"t":33,"lnI":6.2},{"t":38,"lnI":5.9},{"t":46,"lnI":5.0},{"t":54,"lnI":4.5},{"t":61,"lnI":4.0},{"t":68,"lnI":3.5},{"t":74,"lnI":3.03},{"t":78,"lnI":2.8},{"t":82,"lnI":2.9},{"t":86,"lnI":2.62},{"t":92,"lnI":2.7},{"t":98,"lnI":2.5},{"t":105,"lnI":2.55},{"t":112,"lnI":2.42},{"t":120,"lnI":2.45},{"t":128,"lnI":2.37},{"t":135,"lnI":2.4},{"t":142,"lnI":2.2},{"t":148,"lnI":2.3},{"t":152,"lnI":2.0},{"t":156,"lnI":1.85},{"t":165,"lnI":1.82},{"t":175,"lnI":1.85},{"t":185,"lnI":1.82},{"t":195,"lnI":1.9},{"t":200,"lnI":2.45},{"t":203,"lnI":2.55},{"t":206,"lnI":1.9},{"t":212,"lnI":2.5},{"t":215,"lnI":1.82},{"t":230,"lnI":1.8}
    ],
    "boxes_under": [
      {"t1":-204,"t2":1951,"y1":8.31,"y2":8.49},
      {"t1":112,"t2":967,"y1":6.96,"y2":8.31},
      {"t1":1178,"t2":1951,"y1":6.09,"y2":7.95}
    ],
    "boxes_over": [
      {"t1":1310,"t2":1895,"y1":5.55,"y2":5.84},
      {"t1":1357,"t2":1879,"y1":4.3,"y2":4.57},
      {"t1":1073,"t2":1600,"y1":2.62,"y2":2.89},
      {"t1":150,"t2":709,"y1":1.79,"y2":2.31}
    ],
    "frame": [{"t1":-204,"t2":1951,"y1":1.79,"y2":8.31}],
    "a_text": [
      {"label":"Sample 0e","t":193,"lnI":7.89},
      {"label":"T = 10 K","t":219.5,"lnI":7.58},
      {"label":"λ","t":251,"lnI":7.25},
      {"label":"= 750 nm","t":430,"lnI":7.26}
    ],
    "a_sub": [{"label":"ex","t":302,"lnI":7.15}],
    "a_tau": [
      {"label":"τ = 1050 ps","series":"1060 nm","t":1604,"lnI":5.7},
      {"label":"τ = 465 ps","series":"1008 nm","t":1617,"lnI":4.44},
      {"label":"τ = 290 ps","series":"964 nm","t":1336,"lnI":2.75},
      {"label":"τ = 255 ps","series":"908 nm","t":444,"lnI":2.08}
    ],
    "a_panel": [{"label":"(a)","t":-558,"lnI":8.146}],
    "pl": [
      {"nm":800,"v":0.0},{"nm":805,"v":0.003},{"nm":810,"v":0.008},{"nm":815,"v":0.02},{"nm":819,"v":0.045},{"nm":822.5,"v":0.057},{"nm":826,"v":0.045},{"nm":829,"v":0.022},{"nm":834,"v":0.01},{"nm":840,"v":0.004},{"nm":850,"v":0.001},{"nm":860,"v":0.001},{"nm":870,"v":0.002},{"nm":880,"v":0.005},{"nm":890,"v":0.01},{"nm":900,"v":0.017},{"nm":910,"v":0.025},{"nm":915,"v":0.028},{"nm":920,"v":0.033},{"nm":926,"v":0.043},{"nm":932,"v":0.058},{"nm":937,"v":0.074},{"nm":942,"v":0.095},{"nm":947,"v":0.112},{"nm":951,"v":0.122},{"nm":955,"v":0.128},{"nm":960,"v":0.13},{"nm":965,"v":0.134},{"nm":970,"v":0.142},{"nm":975,"v":0.155},{"nm":979,"v":0.175},{"nm":983,"v":0.205},{"nm":987,"v":0.24},{"nm":990,"v":0.265},{"nm":993,"v":0.31},{"nm":996,"v":0.36},{"nm":1000,"v":0.43},{"nm":1003,"v":0.47},{"nm":1006,"v":0.495},{"nm":1009,"v":0.5},{"nm":1012,"v":0.49},{"nm":1015,"v":0.47},{"nm":1018,"v":0.45},{"nm":1021,"v":0.44},{"nm":1024,"v":0.436},{"nm":1027,"v":0.44},{"nm":1030,"v":0.47},{"nm":1033,"v":0.52},{"nm":1036,"v":0.59},{"nm":1041,"v":0.665},{"nm":1046,"v":0.754},{"nm":1049.6,"v":0.851},{"nm":1053,"v":0.934},{"nm":1056.6,"v":0.983},{"nm":1060,"v":0.995},{"nm":1064.4,"v":1.0},{"nm":1070,"v":0.962},{"nm":1073.6,"v":0.865},{"nm":1077.1,"v":0.76},{"nm":1081.3,"v":0.64},{"nm":1084.8,"v":0.554},{"nm":1087.6,"v":0.485},{"nm":1090.1,"v":0.396},{"nm":1093.7,"v":0.292},{"nm":1097.2,"v":0.209},{"nm":1102.5,"v":0.133},{"nm":1109.6,"v":0.091},{"nm":1120.2,"v":0.06},{"nm":1134.3,"v":0.036},{"nm":1150,"v":0.019}
    ],
    "tau": [
      {"nm":804.2,"ps":52},{"nm":808.8,"ps":78},{"nm":812,"ps":98},{"nm":816.6,"ps":126},{"nm":819.4,"ps":160},{"nm":823.6,"ps":156},{"nm":827.9,"ps":179},{"nm":831.8,"ps":162},{"nm":836,"ps":179},
      {"nm":888.3,"ps":199},{"nm":890,"ps":247},{"nm":893.5,"ps":257},{"nm":899.5,"ps":262},{"nm":903,"ps":250},{"nm":907.3,"ps":239},{"nm":910.8,"ps":232},{"nm":914.7,"ps":209},{"nm":919.7,"ps":201},{"nm":927.8,"ps":224},{"nm":932,"ps":258},{"nm":935.9,"ps":273},{"nm":939.4,"ps":292},{"nm":943.6,"ps":281},{"nm":947.9,"ps":300},{"nm":951.4,"ps":294},{"nm":956,"ps":288},{"nm":959.6,"ps":300},{"nm":963.8,"ps":312},{"nm":967.7,"ps":341},{"nm":971.9,"ps":370},{"nm":975.4,"ps":392},{"nm":979,"ps":400},{"nm":983.2,"ps":413},{"nm":987.8,"ps":417},{"nm":992.4,"ps":447},{"nm":996,"ps":448},{"nm":999.5,"ps":451},{"nm":1003.7,"ps":454},{"nm":1007.2,"ps":471},{"nm":1011.8,"ps":498},{"nm":1016,"ps":534},{"nm":1019.6,"ps":652},{"nm":1024.2,"ps":774},{"nm":1027.7,"ps":906},{"nm":1031.9,"ps":946},{"nm":1035.4,"ps":992},{"nm":1040,"ps":1008},{"nm":1044.3,"ps":1040},{"nm":1047.1,"ps":1045},{"nm":1051.3,"ps":1040},{"nm":1055.9,"ps":1079},{"nm":1060.2,"ps":1056},{"nm":1063.7,"ps":1041},{"nm":1067.9,"ps":1071},{"nm":1072.5,"ps":1000},{"nm":1076,"ps":904},{"nm":1080.3,"ps":754},{"nm":1084.2,"ps":669},{"nm":1088.4,"ps":592},{"nm":1092.6,"ps":439},{"nm":1095.5,"ps":349},{"nm":1100,"ps":305}
    ],
    "bars": [
      {"nm1":807,"nm2":850.4,"ps":167},{"nm1":875.9,"nm2":919.6,"ps":254},{"nm1":931.3,"nm2":974.7,"ps":288},{"nm1":979,"nm2":1022,"ps":461},{"nm1":1031.9,"nm2":1074.9,"ps":1049}
    ],
    "b_rules": [{"nm":900,"v1":0,"v2":0.803},{"nm":1000,"v1":0,"v2":1.1},{"nm":1100,"v1":0,"v2":1.1}],
    "b_lines": [{"nm1":834.2,"v1":0.33,"nm2":847.6,"v2":0.122},{"nm1":892.4,"v1":0.357,"nm2":880.1,"v2":0.126}],
    "arrow_l": [{"nm1":905,"nm2":941.9,"v":0.088,"head":900.4}],
    "arrow_r": [{"nm1":1028.4,"nm2":1100,"ps":777,"head":1107}],
    "b_bold": [
      {"label":"Sample 0e","nm":830.7,"v":1.038},
      {"label":"T = 10 K","nm":836,"v":0.984},
      {"label":"λ","nm":830.7,"v":0.929},
      {"label":"= 532 nm","nm":864.2,"v":0.929},
      {"label":"= 1000 W/cm²","nm":855.4,"v":0.857}
    ],
    "b_sub": [{"label":"ex","nm":839.5,"v":0.9136},{"label":"ex","nm":836.7,"v":0.84}],
    "b_ital": [{"label":"I","nm":831.8,"v":0.857}],
    "b_reg": [{"label":"Low","nm":827.9,"v":0.427},{"label":"signal","nm":827.9,"v":0.372}],
    "b_panel": [{"label":"(b)","nm":717,"v":1.078}]
  },
  "hconcat": [
    {
      "width": 409,
      "height": 540,
      "view": {"stroke": null},
      "layer": [
        {
          "data": {"name": "boxes_under"},
          "mark": {"type": "rect", "color": "white"},
          "encoding": {
            "x": {"field": "t1", "type": "quantitative", "scale": {"domain": [-204, 1951], "nice": false, "zero": false},
              "axis": {
                "title": "Time (ps)",
                "values": [0, 200, 400, 600, 800, 1000, 1200, 1400, 1600, 1800],
                "tickCount": 200,
                "labelExpr": "datum.value % 400 === 0 ? '' + datum.value : ''",
                "tickSize": {"condition": {"test": "datum.value % 400 === 0", "value": -17}, "value": -9},
                "tickWidth": {"condition": {"test": "datum.value % 400 === 0", "value": 3}, "value": 2},
                "grid": true,
                "gridColor": {"condition": {"test": "datum.value % 400 === 0", "value": "#8c8c8c"}, "value": "#b4b4b4"},
                "gridDash": {"condition": {"test": "datum.value % 400 === 0", "value": [1, 0]}, "value": [4, 4]},
                "gridWidth": 1.3,
                "labelPadding": 27,
                "titlePadding": -6
              }},
            "x2": {"field": "t2"},
            "y": {"field": "y1", "type": "quantitative", "scale": {"domain": [1.79, 8.4835], "nice": false, "zero": false},
              "axis": {
                "title": "PL Signal (Arb. units)",
                "titleY": 277,
                "values": [1.8,1.9,2,2.1,2.2,2.3,2.4,2.5,2.6,2.7,2.8,2.9,3,3.1,3.2,3.3,3.4,3.5,3.6,3.7,3.8,3.9,4,4.1,4.2,4.3,4.4,4.5,4.6,4.7,4.8,4.9,5,5.1,5.2,5.3,5.4,5.5,5.6,5.7,5.8,5.9,6,6.1,6.2,6.3,6.4,6.5,6.6,6.7,6.8,6.9,7,7.1,7.2,7.3,7.4,7.5,7.6,7.7,7.8,7.9,8,8.1,8.2,8.3],
                "tickCount": 200,
                "labelExpr": "abs(datum.value - round(datum.value)) < 0.01 ? 'e' + ['⁰','¹','²','³','⁴','⁵','⁶','⁷','⁸','⁹'][round(datum.value)] : ''",
                "tickSize": {"condition": {"test": "abs(datum.value - round(datum.value)) < 0.01", "value": -20}, "value": -9},
                "tickWidth": {"condition": {"test": "abs(datum.value - round(datum.value)) < 0.01", "value": 3}, "value": 2},
                "grid": true,
                "gridOpacity": {"condition": {"test": "abs(datum.value - round(datum.value)) < 0.01", "value": 1}, "value": 0},
                "gridColor": "#8c8c8c",
                "gridWidth": 1.3,
                "labelFontSize": 25,
                "labelPadding": 41,
                "titlePadding": 5
              }},
            "y2": {"field": "y2"}
          }
        },
        {
          "data": {"name": "decay"},
          "mark": {"type": "point", "filled": false, "size": 169, "strokeWidth": 1, "opacity": 1, "clip": true},
          "encoding": {
            "x": {"field": "t", "type": "quantitative"},
            "y": {"field": "lnI", "type": "quantitative"},
            "color": {"field": "series", "type": "nominal",
              "scale": {"domain": ["820 nm", "908 nm", "964 nm", "1008 nm", "1060 nm"], "range": ["#ff0000", "#00ff00", "#0000ff", "#ff00ff", "#8000ff"]},
              "legend": {
                "title": "λ det", "orient": "none", "legendX": 278.5, "legendY": 35,
                "titleFontSize": 17, "titleFontWeight": "normal", "titleAnchor": "middle", "titlePadding": 8, "titleColor": "black",
                "labelFontSize": 18, "labelOffset": 20.5, "labelColor": "black",
                "labelExpr": "'-  ' + datum.label",
                "symbolSize": 169, "symbolType": "circle", "symbolStrokeWidth": 1, "symbolOpacity": 1,
                "rowPadding": 5, "padding": 0
              }}
          }
        },
        {
          "data": {"name": "fits"},
          "mark": {"type": "line", "strokeWidth": 2, "clip": true},
          "encoding": {
            "x": {"field": "t", "type": "quantitative"},
            "y": {"field": "lnI", "type": "quantitative"},
            "stroke": {"field": "series", "type": "nominal", "legend": null,
              "scale": {"domain": ["820 nm", "908 nm", "964 nm", "1008 nm", "1060 nm"], "range": ["#ff0000", "#00ff00", "#0000ff", "#ff00ff", "#8000ff"]}}
          }
        },
        {
          "data": {"name": "laser"},
          "mark": {"type": "line", "strokeWidth": 5, "strokeJoin": "round", "color": "black", "clip": true},
          "encoding": {
            "x": {"field": "t", "type": "quantitative"},
            "y": {"field": "lnI", "type": "quantitative"},
            "strokeDash": {"datum": "Laser", "type": "nominal",
              "scale": {"domain": ["Laser"], "range": [[1, 0]]},
              "legend": {
                "title": null, "orient": "none", "legendX": 265, "legendY": 161,
                "labelFontSize": 18, "labelOffset": 7, "labelColor": "black",
                "labelExpr": "'- ' + datum.label",
                "symbolType": "stroke", "symbolSize": 1600, "symbolStrokeWidth": 5, "symbolStrokeColor": "black", "symbolOpacity": 1,
                "padding": 0
              }}
          }
        },
        {
          "data": {"name": "boxes_over"},
          "mark": {"type": "rect", "color": "white"},
          "encoding": {
            "x": {"field": "t1", "type": "quantitative"},
            "x2": {"field": "t2"},
            "y": {"field": "y1", "type": "quantitative"},
            "y2": {"field": "y2"}
          }
        },
        {
          "data": {"name": "frame"},
          "mark": {"type": "rect", "filled": false, "color": "black", "strokeWidth": 3},
          "encoding": {
            "x": {"field": "t1", "type": "quantitative"},
            "x2": {"field": "t2"},
            "y": {"field": "y1", "type": "quantitative"},
            "y2": {"field": "y2"}
          }
        },
        {
          "data": {"name": "a_text"},
          "mark": {"type": "text", "align": "left", "baseline": "middle", "fontSize": 20, "color": "black"},
          "encoding": {
            "x": {"field": "t", "type": "quantitative"},
            "y": {"field": "lnI", "type": "quantitative"},
            "text": {"field": "label"}
          }
        },
        {
          "data": {"name": "a_sub"},
          "mark": {"type": "text", "align": "left", "baseline": "middle", "fontSize": 14, "color": "black"},
          "encoding": {
            "x": {"field": "t", "type": "quantitative"},
            "y": {"field": "lnI", "type": "quantitative"},
            "text": {"field": "label"}
          }
        },
        {
          "data": {"name": "a_tau"},
          "mark": {"type": "text", "align": "center", "baseline": "middle", "fontSize": 20},
          "encoding": {
            "x": {"field": "t", "type": "quantitative"},
            "y": {"field": "lnI", "type": "quantitative"},
            "text": {"field": "label"},
            "fill": {"field": "series", "type": "nominal", "legend": null,
              "scale": {"domain": ["908 nm", "964 nm", "1008 nm", "1060 nm"], "range": ["#00ff00", "#0000ff", "#ff00ff", "#8000ff"]}}
          }
        },
        {
          "data": {"name": "a_panel"},
          "mark": {"type": "text", "align": "center", "baseline": "middle", "fontSize": 28, "fontWeight": "bold", "color": "black"},
          "encoding": {
            "x": {"field": "t", "type": "quantitative"},
            "y": {"field": "lnI", "type": "quantitative"},
            "text": {"field": "label"}
          }
        }
      ]
    },
    {
      "width": 350,
      "height": 532,
      "resolve": {"scale": {"y": "independent"}},
      "layer": [
        {
          "layer": [
            {
              "data": {"name": "b_rules"},
              "mark": {"type": "rule", "strokeDash": [2, 4], "strokeWidth": 1.5, "color": "#333333"},
              "encoding": {
                "x": {"field": "nm", "type": "quantitative", "scale": {"domain": [800, 1150], "nice": false, "zero": false},
                  "axis": {
                    "title": "Wavelength (nm)",
                    "values": [800, 850, 900, 950, 1000, 1050, 1100],
                    "tickCount": 200,
                    "labelExpr": "datum.value % 100 === 0 ? '' + datum.value : ''",
                    "tickSize": {"condition": {"test": "datum.value % 100 === 0", "value": -17}, "value": -10},
                    "tickWidth": 3,
                    "grid": false,
                    "labelPadding": 25,
                    "titlePadding": 6
                  }},
                "y": {"field": "v1", "type": "quantitative", "scale": {"domain": [0, 1.1], "nice": false, "zero": false},
                  "axis": {
                    "title": "CW Normalized PL Signal",
                    "values": [0, 0.25, 0.5, 0.75, 1],
                    "tickCount": 200,
                    "labelExpr": "(datum.value === 0 || datum.value === 0.5 || datum.value === 1) ? format(datum.value, '.1f') : ''",
                    "tickSize": {"condition": {"test": "datum.value === 0 || datum.value === 0.5 || datum.value === 1", "value": -17}, "value": -9},
                    "tickWidth": 3,
                    "grid": false,
                    "labelPadding": 37,
                    "titlePadding": 10
                  }},
                "y2": {"field": "v2"}
              }
            },
            {
              "data": {"name": "pl"},
              "mark": {"type": "line", "color": "#0000ff", "strokeWidth": 2.5, "clip": true},
              "encoding": {
                "x": {"field": "nm", "type": "quantitative"},
                "y": {"field": "v", "type": "quantitative"}
              }
            },
            {
              "data": {"name": "b_lines"},
              "mark": {"type": "rule", "color": "black", "strokeWidth": 1},
              "encoding": {
                "x": {"field": "nm1", "type": "quantitative"},
                "x2": {"field": "nm2"},
                "y": {"field": "v1", "type": "quantitative"},
                "y2": {"field": "v2"}
              }
            },
            {
              "data": {"name": "arrow_l"},
              "mark": {"type": "rule", "color": "black", "strokeWidth": 1.2},
              "encoding": {
                "x": {"field": "nm1", "type": "quantitative"},
                "x2": {"field": "nm2"},
                "y": {"field": "v", "type": "quantitative"}
              }
            },
            {
              "data": {"name": "arrow_l"},
              "mark": {"type": "point", "shape": "M1,-0.6L-1,0L1,0.6Z", "filled": true, "color": "black", "size": 529, "opacity": 1},
              "encoding": {
                "x": {"field": "head", "type": "quantitative"},
                "y": {"field": "v", "type": "quantitative"}
              }
            },
            {
              "data": {"name": "b_bold"},
              "mark": {"type": "text", "align": "left", "baseline": "middle", "fontSize": 19, "fontWeight": "bold", "color": "black"},
              "encoding": {
                "x": {"field": "nm", "type": "quantitative"},
                "y": {"field": "v", "type": "quantitative"},
                "text": {"field": "label"}
              }
            },
            {
              "data": {"name": "b_sub"},
              "mark": {"type": "text", "align": "left", "baseline": "middle", "fontSize": 13, "fontWeight": "bold", "color": "black"},
              "encoding": {
                "x": {"field": "nm", "type": "quantitative"},
                "y": {"field": "v", "type": "quantitative"},
                "text": {"field": "label"}
              }
            },
            {
              "data": {"name": "b_ital"},
              "mark": {"type": "text", "align": "left", "baseline": "middle", "fontSize": 19, "fontWeight": "bold", "fontStyle": "italic", "color": "black"},
              "encoding": {
                "x": {"field": "nm", "type": "quantitative"},
                "y": {"field": "v", "type": "quantitative"},
                "text": {"field": "label"}
              }
            },
            {
              "data": {"name": "b_reg"},
              "mark": {"type": "text", "align": "left", "baseline": "middle", "fontSize": 19, "color": "black"},
              "encoding": {
                "x": {"field": "nm", "type": "quantitative"},
                "y": {"field": "v", "type": "quantitative"},
                "text": {"field": "label"}
              }
            },
            {
              "data": {"name": "b_panel"},
              "mark": {"type": "text", "align": "center", "baseline": "middle", "fontSize": 28, "fontWeight": "bold", "color": "black"},
              "encoding": {
                "x": {"field": "nm", "type": "quantitative"},
                "y": {"field": "v", "type": "quantitative"},
                "text": {"field": "label"}
              }
            }
          ]
        },
        {
          "layer": [
            {
              "data": {"name": "bars"},
              "mark": {"type": "rule", "color": "black", "strokeWidth": 5},
              "encoding": {
                "x": {"field": "nm1", "type": "quantitative"},
                "x2": {"field": "nm2"},
                "y": {"field": "ps", "type": "quantitative", "scale": {"domain": [0, 1200], "nice": false, "zero": false},
                  "axis": {
                    "orient": "right",
                    "title": "Time (ps)",
                    "values": [0, 100, 200, 300, 400, 500, 600, 700, 800, 900, 1000, 1100, 1200],
                    "tickCount": 200,
                    "labelExpr": "datum.value % 200 === 0 ? '' + datum.value : ''",
                    "tickSize": {"condition": {"test": "datum.value % 200 === 0", "value": -17}, "value": -9},
                    "tickWidth": 3,
                    "grid": false,
                    "labelPadding": 27,
                    "titlePadding": 6,
                    "titleAngle": 270,
                    "titleBaseline": "top"
                  }}
              }
            },
            {
              "data": {"name": "tau"},
              "transform": [{"filter": "datum.nm >= 1007"}],
              "mark": {"type": "line", "color": "black", "strokeWidth": 1},
              "encoding": {
                "x": {"field": "nm", "type": "quantitative"},
                "y": {"field": "ps", "type": "quantitative"}
              }
            },
            {
              "data": {"name": "tau"},
              "mark": {"type": "point", "shape": "circle", "fill": "white", "stroke": "#ff0000", "strokeWidth": 1.6, "size": 110, "opacity": 1, "fillOpacity": 1},
              "encoding": {
                "x": {"field": "nm", "type": "quantitative"},
                "y": {"field": "ps", "type": "quantitative"}
              }
            },
            {
              "data": {"name": "arrow_r"},
              "mark": {"type": "rule", "color": "black", "strokeWidth": 1.2},
              "encoding": {
                "x": {"field": "nm1", "type": "quantitative"},
                "x2": {"field": "nm2"},
                "y": {"field": "ps", "type": "quantitative"}
              }
            },
            {
              "data": {"name": "arrow_r"},
              "mark": {"type": "point", "shape": "M-1,-0.6L1,0L-1,0.6Z", "filled": true, "color": "black", "size": 529, "opacity": 1},
              "encoding": {
                "x": {"field": "head", "type": "quantitative"},
                "y": {"field": "ps", "type": "quantitative"}
              }
            }
          ]
        }
      ]
    }
  ]
}
